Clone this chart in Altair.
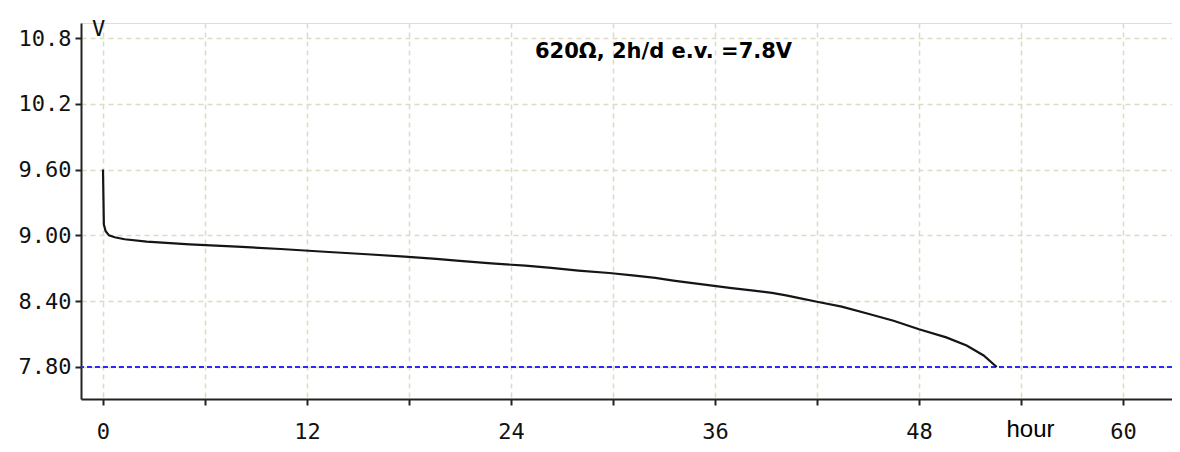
import altair as alt
import pandas as pd

# Discharge curve (hours, volts)
hours = [0.0, 0.05, 0.15, 0.35, 0.69, 1.27, 2.57, 5.1, 7.88, 10.45, 13.04, 15.53,
         17.75, 19.6, 20.8, 22.84, 24.84, 26.37, 27.96, 29.78, 31.29, 32.49,
         33.55, 34.57, 35.61, 36.86, 38.27, 39.35, 40.18, 40.96, 42.0, 43.45,
         44.9, 46.5, 48.0, 49.6, 50.8, 51.8, 52.57]
volts = [9.60, 9.10, 9.04, 9.00, 8.983, 8.965, 8.943, 8.919, 8.897, 8.876, 8.851, 8.828,
         8.806, 8.786, 8.770, 8.745, 8.724, 8.703, 8.679, 8.657, 8.633, 8.612,
         8.588, 8.567, 8.546, 8.522, 8.497, 8.476, 8.453, 8.428, 8.395, 8.35,
         8.29, 8.222, 8.144, 8.07, 7.995, 7.905, 7.80]

end_voltage = [7.8]
x_ticks = [0, 6, 12, 18, 24, 30, 36, 42, 48, 54, 60]
y_ticks = [7.8, 8.4, 9.0, 9.6, 10.2, 10.8]
annotation = ["620Ω, 2h/d e.v. =7.8V"]

x_domain = [-1.294, 62.88]
y_domain = [7.508, 10.937]

W, H = 1091, 376
grid_color = "#dcdcc4"
mono = "DejaVu Sans Mono"

df = pd.DataFrame({"hour": hours, "volt": volts})
ev = pd.DataFrame({"ev": end_voltage})
ann = pd.DataFrame({"t": annotation})

x_scale = alt.Scale(domain=x_domain, nice=False, zero=False)
y_scale = alt.Scale(domain=y_domain, nice=False, zero=False)

x_axis = alt.Axis(
    values=x_ticks,
    labelExpr="datum.value % 12 == 0 ? datum.label : ''",
    grid=True, gridColor=grid_color, gridDash=[5, 4], gridWidth=1.5,
    domainColor="#222222", domainWidth=2,
    tickColor="#222222", tickWidth=2, tickSize=6,
    labelFont=mono, labelFontSize=22, labelColor="#111111", labelPadding=16,
    labelFontWeight="normal",
    title="hour", titleFont="Liberation Sans", titleFontSize=24,
    titleFontWeight="normal", titleColor="#000000",
    titleX=925, titleY=37, titleAlign="left", titleBaseline="alphabetic",
    titleAnchor="start",
)
y_axis = alt.Axis(
    values=y_ticks,
    labelExpr="datum.value >= 10 ? format(datum.value, '.1f') : format(datum.value, '.2f')",
    grid=True, gridColor=grid_color, gridDash=[5, 4], gridWidth=1.5,
    domainColor="#222222", domainWidth=2,
    tickColor="#222222", tickWidth=2, tickSize=6,
    labelFont=mono, labelFontSize=22, labelColor="#111111", labelPadding=4,
    labelBaseline="middle",
    title="V", titleFont=mono, titleFontSize=22, titleFontWeight="normal",
    titleColor="#111111", titleAngle=0, titleX=17, titleY=12,
    titleAlign="center", titleBaseline="alphabetic",
)

line = alt.Chart(df).mark_line(color="#151515", strokeWidth=2.2).encode(
    x=alt.X("hour:Q", scale=x_scale, axis=x_axis),
    y=alt.Y("volt:Q", scale=y_scale, axis=y_axis),
)

rule = alt.Chart(ev).mark_rule(color="#2a2aff", strokeWidth=2, strokeDash=[5, 3]).encode(
    y=alt.Y("ev:Q", scale=y_scale)
)

text = alt.Chart(ann).mark_text(
    font="DejaVu Sans", fontSize=21, fontWeight="bold", color="#000000",
    align="left", baseline="alphabetic",
).encode(text="t:N", x=alt.value(454), y=alt.value(35))

chart = alt.layer(rule, line, text).properties(
    width=W, height=H,
    autosize=alt.AutoSizeParams(type="none"),
    padding={"left": 73, "top": 15, "right": 0, "bottom": 43},
).configure_view(stroke=None).configure(background="#ffffff")

chart.save("out.html", embed_options={"renderer": "svg", "actions": False})
